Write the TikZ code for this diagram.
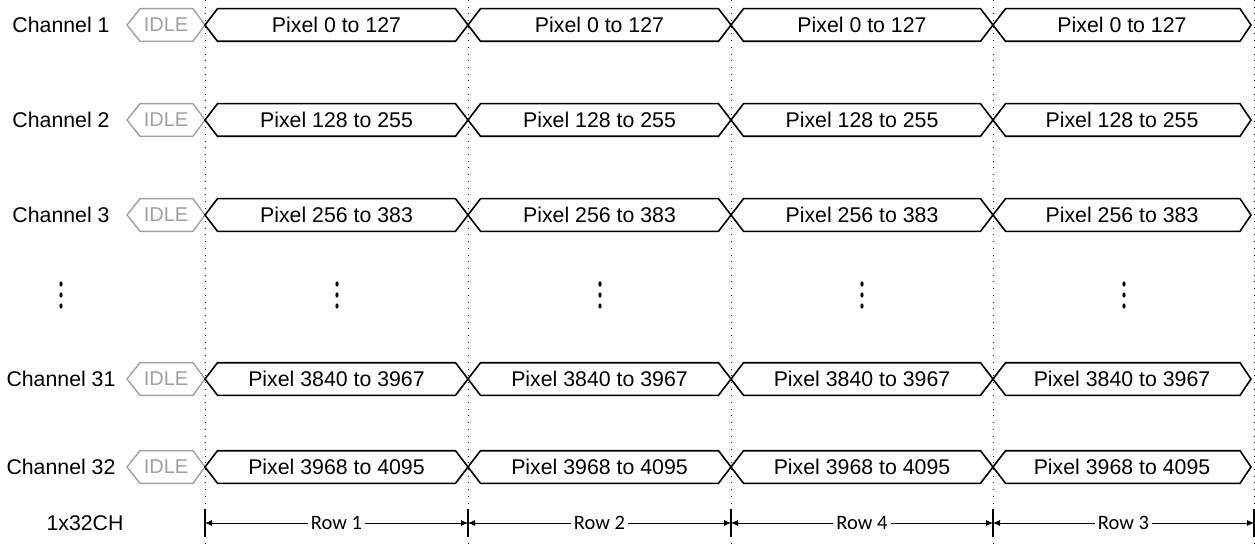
\documentclass[tikz,border=0pt]{standalone}
\usepackage{fontspec}
\setmainfont{Liberation Sans}
\newfontfamily\calfont{Carlito}
\usetikzlibrary{arrows.meta}
\definecolor{idlegray}{HTML}{A0A0A0}
\begin{document}
\begin{tikzpicture}[x=1pt,y=-1pt,
  wave/.style={draw=black, line width=1.6pt, line join=miter},
  idlebox/.style={draw=idlegray, line width=1.4pt, line join=miter},
  txt/.style={font=\fontsize{21.3}{25}\selectfont, inner sep=0pt},
  idletxt/.style={font=\fontsize{20}{24}\selectfont, inner sep=0pt, text=idlegray},
  rowtxt/.style={font=\calfont\fontsize{20.5}{24}\selectfont, fill=white, inner sep=3pt},
  dotline/.style={line width=0.9pt, dash pattern=on 0.9pt off 5.8pt},
  tick/.style={line width=1.1pt},
  dimarrow/.style={line width=0.8pt, {Latex[length=7pt,width=6pt]}-{Latex[length=7pt,width=6pt]}},
  vdot/.style={fill=black, draw=none}
]
\useasboundingbox (0,0) rectangle (1255,548);
% dotted grid lines
\foreach \x [count=\i] in {205,468,731,993,1254}{
  \draw[dotline] (\x,0) -- (\x,548);
}
% rows
\def\h{16.3}
\foreach \Y/\ch/\pix in {25/1/0 to 127, 120/2/128 to 255, 215/3/256 to 383, 379/31/3840 to 3967, 467/32/3968 to 4095}{
  \node[txt] (ch\ch) at (61,\Y) {Channel \ch};
  \draw[idlebox] (140,\Y-\h) -- (193,\Y-\h) -- (205,\Y) -- (193,\Y+\h) -- (140,\Y+\h) -- (127,\Y) -- cycle;
  \node[idletxt] (idle\ch) at (166,\Y) {IDLE};
  \foreach \L/\R/\d [count=\k] in {205/468/12.5, 468/731/12.5, 731/993/12.5, 993/1251/11}{
    \draw[wave] (\L,\Y) -- (\L+12.5,\Y-\h) -- (\R-\d,\Y-\h) -- (\R,\Y) -- (\R-\d,\Y+\h) -- (\L+12.5,\Y+\h) -- cycle;
    \node[txt] (p\ch-\k) at ({(\L+\R)/2},\Y) {Pixel \pix};
  }
}
% vertical ellipses
\foreach \cx in {61,337,600,862,1124}{
  \foreach \dy in {284,295,306}{
    \fill[vdot] (\cx,\dy) ellipse [x radius=1.6, y radius=2.6];
  }
}
% bottom dimension line
\node[txt] (lbl) at (85,523) {1x32CH};
\foreach \x [count=\i] in {205,468,731,993,1254}{
  \coordinate (t\i) at (\x,523);
  \draw[tick] (\x,509) -- (\x,537);
}
\foreach \a/\b/\r in {1/2/1, 2/3/2, 3/4/4, 4/5/3}{
  \draw[dimarrow] (t\a) -- (t\b) node[midway, rowtxt] {Row \r};
}
\end{tikzpicture}
\end{document}
